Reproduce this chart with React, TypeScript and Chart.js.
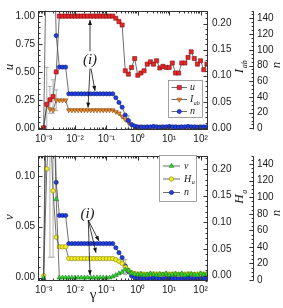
import React, { useEffect, useRef } from "react";
import { Chart, registerables } from "chart.js";
Chart.register(...registerables);

// ---------------- data ----------------
const gammaExp = [-3.0, -2.9, -2.8, -2.7, -2.6, -2.5, -2.4, -2.3, -2.2, -2.1, -2.0, -1.9, -1.8, -1.7, -1.6, -1.5, -1.4, -1.3, -1.2, -1.1, -1.0, -0.9, -0.8, -0.7, -0.6, -0.5, -0.4, -0.3, -0.2, -0.1, 0.0, 0.1, 0.2, 0.3, 0.4, 0.5, 0.6, 0.7, 0.8, 0.9, 1.0, 1.1, 1.2, 1.3, 1.4, 1.5, 1.6, 1.7, 1.8, 1.9, 2.0, 2.1, 2.2];
const gamma = gammaExp.map((e) => Math.pow(10, e));

const uValues = [0.00, 0.21, 0.25, 0.28, 0.50,
  1, 1, 1, 1, 1, 1, 1, 1, 1, 1, 1, 1, 1, 1, 1, 1, 1, 1,
  0.98, 0.95, 0.92,
  0.51, 0.48, 0.54, 0.62, 0.47, 0.49, 0.51, 0.57, 0.59, 0.57, 0.60, 0.535, 0.55, 0.54, 0.54, 0.58, 0.49, 0.49, 0.58, 0.58, 0.63, 0.68, 0.62, 0.57, 0.60, 0.52, 0.57];
const iabValues = [0.000, 0.044, 0.036, 0.034,
  0.053, 0.053, 0.053, 0.053,
  0.034, 0.034, 0.034, 0.034, 0.034, 0.034, 0.034, 0.034, 0.034, 0.034, 0.034, 0.034, 0.034, 0.034, 0.034,
  0.031, 0.028, 0.022, 0.016, 0.011, 0.006, 0.003,
  0.002, 0.002, 0.0025, 0.002, 0.0015, 0.002, 0.002, 0.0025, 0.002, 0.002, 0.0015, 0.002, 0.002, 0.0025, 0.002, 0.002, 0.0015, 0.002, 0.002, 0.0025, 0.002, 0.002, 0.002];
const nValues = [0, 260, 230, 280, 118, 78, 78, 78,
  44, 44, 44, 44, 44, 44, 44, 44, 44, 44, 44, 44, 44, 44, 44,
  39, 33, 27, 17, 10, 5, 3, 2,
  2, 1.5, 2, 2, 2.5, 2, 1.5, 2, 2, 2.5, 2, 2, 1.5, 2, 2, 2.5, 2, 2, 1.5, 2, 2, 2];
const vValues = [0, 0.30, 0.25, 0.20, 0.077,
  0, 0, 0, 0, 0, 0, 0, 0, 0, 0, 0, 0, 0, 0, 0, 0, 0,
  0.001, 0.0024, 0.004, 0.0055, 0.008, 0.007, 0.0045, 0.0035,
  0.003, 0.0035, 0.0025, 0.003, 0.004, 0.003, 0.0025, 0.0035, 0.003, 0.004, 0.0025, 0.003, 0.0035, 0.003, 0.004, 0.0025, 0.003, 0.0035, 0.003, 0.0025, 0.004, 0.003, 0.0035];
const haValues = [0, 0.200, 0.300, 0.159, 0.072, 0.054, 0.054, 0.054,
  0.032, 0.032, 0.032, 0.032, 0.032, 0.032, 0.032, 0.032, 0.032, 0.032, 0.032, 0.032, 0.032, 0.032, 0.032,
  0.030, 0.027, 0.023, 0.016, 0.010, 0.006, 0.004,
  0.003, 0.0035, 0.003, 0.0025, 0.003, 0.0035, 0.003, 0.003, 0.0025, 0.0035, 0.003, 0.003, 0.0035, 0.0025, 0.003, 0.003, 0.0035, 0.003, 0.0025, 0.003, 0.0035, 0.003, 0.003];

// error bars: [index, half-width]
const uErrors: [number, number][] = [[1, 0.33], [2, 0.12], [3, 0.15]];
const iabErrors: [number, number][] = [[4, 0.02], [27, 0.012]];
const vErrors: [number, number][] = [[2, 0.23], [3, 0.18]];
const haErrors: [number, number][] = [[26, 0.014]];

// annotation "(i)": text anchor [gamma, left-axis value], arrows [g1, v1, g2, v2]
const topNoteText: [number, number] = [0.030, 0.61];
const topNoteArrows: number[][] = [[0.030, 0.685, 0.030, 0.965], [0.0322, 0.53, 0.0433, 0.33], [0.030, 0.53, 0.0259, 0.18]];
const botNoteText: [number, number] = [0.0249, 0.0629];
const botNoteArrows: number[][] = [[0.0264, 0.0566, 0.0579, 0.0359], [0.0264, 0.0566, 0.0466, 0.0244], [0.0264, 0.0566, 0.030, 0.0024]];

// ---------------- drawing helpers ----------------
const LINE = "#4a4a4a";
const FRAME = "#333";
const TXT = "#1a1a1a";
const SUP: Record<string, string> = { "-": "\u207B", "0": "\u2070", "1": "\u00B9", "2": "\u00B2", "3": "\u00B3", "4": "\u2074" };

function powLabel(v: number) {
  const l = Math.log10(v);
  const e = Math.round(l);
  if (Math.abs(l - e) > 1e-6) return "";
  return "10" + String(e).split("").map((c) => SUP[c]).join("");
}

function drawMarker(ctx: CanvasRenderingContext2D, style: string, x: number, y: number, r: number, rotation: number, fill: string, stroke: string) {
  ctx.save();
  ctx.beginPath();
  if (style === "rect") {
    const s = Math.SQRT1_2 * r;
    ctx.rect(x - s, y - s, 2 * s, 2 * s);
  } else if (style === "circle") {
    ctx.arc(x, y, r, 0, Math.PI * 2);
  } else {
    let rad = (rotation * Math.PI) / 180;
    for (let k = 0; k < 3; k++) {
      const px = x + Math.sin(rad) * r;
      const py = y - Math.cos(rad) * r;
      if (k === 0) ctx.moveTo(px, py);
      else ctx.lineTo(px, py);
      rad += (2 * Math.PI) / 3;
    }
    ctx.closePath();
  }
  ctx.fillStyle = fill;
  ctx.fill();
  ctx.strokeStyle = stroke;
  ctx.lineWidth = 0.6;
  ctx.stroke();
  ctx.restore();
}

function drawLabel(ctx: CanvasRenderingContext2D, text: string, sub: string | undefined, x: number, y: number, size: number, rot: number, align: "center" | "left", italic = true) {
  ctx.save();
  ctx.translate(x, y);
  if (rot) ctx.rotate(rot);
  const main = `${italic ? "italic " : ""}${size}px "Liberation Serif", serif`;
  const small = `${italic ? "italic " : ""}${Math.round(size * 0.62)}px "Liberation Serif", serif`;
  ctx.font = main;
  const mw = ctx.measureText(text).width;
  ctx.font = small;
  const sw = sub ? ctx.measureText(sub).width : 0;
  const total = mw + sw;
  let x0 = align === "center" ? -total / 2 : 0;
  ctx.fillStyle = TXT;
  ctx.textBaseline = "middle";
  ctx.textAlign = "left";
  ctx.font = main;
  ctx.fillText(text, x0, 0);
  if (sub) {
    ctx.font = small;
    ctx.fillText(sub, x0 + mw + 0.5, size * 0.35);
  }
  ctx.restore();
}

function arrow(ctx: CanvasRenderingContext2D, x1: number, y1: number, x2: number, y2: number) {
  ctx.beginPath();
  ctx.moveTo(x1, y1);
  ctx.lineTo(x2, y2);
  ctx.stroke();
  const a = Math.atan2(y2 - y1, x2 - x1);
  const L = 5, W = 2;
  ctx.beginPath();
  ctx.moveTo(x2, y2);
  ctx.lineTo(x2 - L * Math.cos(a) + W * Math.sin(a), y2 - L * Math.sin(a) - W * Math.cos(a));
  ctx.lineTo(x2 - L * Math.cos(a) - W * Math.sin(a), y2 - L * Math.sin(a) + W * Math.cos(a));
  ctx.closePath();
  ctx.fill();
}

type Series = { label: string; sub?: string; values: number[]; errors: [number, number][]; axis: string; fill: string; stroke: string; style: string; rotation: number; radius: number };
type AxisDef = { min: number; max: number; step: number; minor: number; digits: number; title: string; sub?: string; titleX: number; titleY: number };
type PanelDef = {
  height: number; padTop: number; xAxisH: number;
  series: Series[];
  yL: AxisDef; yR: AxisDef; yN: AxisDef;
  legend: { box: number[]; rows: number[]; lineX: number[]; textX: number };
  noteText: [number, number]; noteArrows: number[][];
  gammaTitle?: number[];
};

function makeDecor(p: PanelDef) {
  return {
    id: "decor",
    beforeDatasetsDraw(chart: any) {
      const ctx: CanvasRenderingContext2D = chart.ctx;
      const ca = chart.chartArea;
      const xs = chart.scales.x;
      ctx.save();
      ctx.beginPath();
      ctx.rect(ca.left, ca.top, ca.right - ca.left, ca.bottom - ca.top);
      ctx.clip();
      ctx.strokeStyle = "#9a9a9a";
      ctx.lineWidth = 0.8;
      p.series.forEach((s) => {
        const ys = chart.scales[s.axis];
        s.errors.forEach(([i, e]) => {
          const px = xs.getPixelForValue(gamma[i]);
          const y1 = ys.getPixelForValue(s.values[i] - e);
          const y2 = ys.getPixelForValue(s.values[i] + e);
          ctx.beginPath();
          ctx.moveTo(px, y1); ctx.lineTo(px, y2);
          ctx.moveTo(px - 2, y1); ctx.lineTo(px + 2, y1);
          ctx.moveTo(px - 2, y2); ctx.lineTo(px + 2, y2);
          ctx.stroke();
        });
      });
      ctx.restore();
    },
    afterDraw(chart: any) {
      const ctx: CanvasRenderingContext2D = chart.ctx;
      const ca = chart.chartArea;
      const xs = chart.scales.x;
      const yl = chart.scales.yL, yr = chart.scales.yR, yn = chart.scales.yN;
      ctx.save();
      ctx.strokeStyle = FRAME;
      ctx.lineWidth = 1;
      const L = Math.round(ca.left) + 0.5, R = Math.round(ca.right) - 0.5, T = Math.round(ca.top) + 0.5, B = Math.round(ca.bottom) - 0.5;
      ctx.strokeRect(L, T, R - L, B - T);
      // x ticks (log)
      ctx.beginPath();
      for (let e = -4; e <= 3; e++) {
        for (let m = 1; m <= 9; m++) {
          const v = m * Math.pow(10, e);
          if (v < xs.min || v > xs.max) continue;
          const px = Math.round(xs.getPixelForValue(v)) + 0.5;
          const len = m === 1 ? 4 : 2;
          ctx.moveTo(px, B); ctx.lineTo(px, B - len);
          ctx.moveTo(px, T); ctx.lineTo(px, T + len);
        }
      }
      // y ticks
      const yTicks = (sc: any, def: AxisDef, x: number, dir: number) => {
        const i0 = Math.ceil(def.min / def.minor - 1e-9), i1 = Math.floor(def.max / def.minor + 1e-9);
        for (let i = i0; i <= i1; i++) {
          const v = i * def.minor;
          const py = Math.round(sc.getPixelForValue(v)) + 0.5;
          const isMajor = Math.abs(v / def.step - Math.round(v / def.step)) < 1e-6;
          const len = isMajor ? 4 : 2;
          ctx.moveTo(x, py); ctx.lineTo(x + dir * len, py);
        }
      };
      yTicks(yl, p.yL, L, 1);
      yTicks(yr, p.yR, R, -1);
      const NX = Math.round(yn.left) + 0.5;
      yTicks(yn, p.yN, NX, -1);
      ctx.moveTo(NX, T); ctx.lineTo(NX, B);
      ctx.stroke();

      // axis titles
      const rot = -Math.PI / 2;
      [p.yL, p.yR, p.yN].forEach((a) => drawLabel(ctx, a.title, a.sub, a.titleX, a.titleY, 13, rot, "center"));
      if (p.gammaTitle) drawLabel(ctx, "\u03B3", undefined, p.gammaTitle[0], p.gammaTitle[1], 15, 0, "center", false);

      // legend
      const lg = p.legend;
      ctx.fillStyle = "#fff";
      ctx.fillRect(lg.box[0], lg.box[1], lg.box[2] - lg.box[0], lg.box[3] - lg.box[1]);
      ctx.strokeStyle = "#8c8c8c";
      ctx.lineWidth = 0.8;
      ctx.strokeRect(lg.box[0] + 0.5, lg.box[1] + 0.5, lg.box[2] - lg.box[0], lg.box[3] - lg.box[1]);
      p.series.forEach((s, i) => {
        const y = lg.rows[i];
        ctx.strokeStyle = LINE;
        ctx.lineWidth = 0.8;
        ctx.beginPath();
        ctx.moveTo(lg.lineX[0], y); ctx.lineTo(lg.lineX[1], y);
        ctx.stroke();
        drawMarker(ctx, s.style, (lg.lineX[0] + lg.lineX[1]) / 2, y, s.radius, s.rotation, s.fill, s.stroke);
        drawLabel(ctx, s.label, s.sub, lg.textX, y, 10, 0, "left");
      });

      // annotation
      ctx.strokeStyle = "#111";
      ctx.fillStyle = "#111";
      ctx.lineWidth = 0.8;
      p.noteArrows.forEach((a) => {
        arrow(ctx, xs.getPixelForValue(a[0]), yl.getPixelForValue(a[1]), xs.getPixelForValue(a[2]), yl.getPixelForValue(a[3]));
      });
      drawLabel(ctx, "(i)", undefined, xs.getPixelForValue(p.noteText[0]), yl.getPixelForValue(p.noteText[1]), 15, 0, "center");
      ctx.restore();
    },
  };
}

function buildConfig(p: PanelDef): any {
  const font = { family: '"Liberation Sans", Arial, sans-serif', size: 10 };
  const yAxis = (a: AxisDef, position: string, weight: number, width: number, pad: number) => ({
    type: "linear",
    position,
    weight,
    min: a.min,
    max: a.max,
    grid: { display: false, drawTicks: false },
    border: { display: false },
    ticks: {
      stepSize: a.step,
      includeBounds: false,
      padding: pad,
      color: TXT,
      font,
      callback: (v: any) => (a.digits ? Number(v).toFixed(a.digits) : String(Math.round(Number(v)))),
    },
    afterFit: (s: any) => { s.width = width; },
  });
  return {
    type: "line",
    data: {
      datasets: p.series.map((s) => ({
        label: s.label,
        data: gamma.map((g, i) => ({ x: g, y: s.values[i] })),
        yAxisID: s.axis,
        borderColor: LINE,
        borderWidth: 0.8,
        pointBackgroundColor: s.fill,
        pointBorderColor: s.stroke,
        pointBorderWidth: 0.6,
        pointStyle: s.style,
        pointRotation: s.rotation,
        pointRadius: s.radius,
        tension: 0,
        fill: false,
      })),
    },
    options: {
      animation: false,
      responsive: false,
      maintainAspectRatio: false,
      devicePixelRatio: 1,
      events: [],
      layout: { padding: { top: p.padTop, left: 0, right: 0, bottom: 0 } },
      plugins: { legend: { display: false }, tooltip: { enabled: false } },
      scales: {
        x: {
          type: "logarithmic",
          min: Math.pow(10, -3.18),
          max: Math.pow(10, 2.22),
          grid: { display: false, drawTicks: false },
          border: { display: false },
          ticks: { autoSkip: false, maxRotation: 0, minRotation: 0, padding: 3, color: TXT, font, callback: (v: any) => powLabel(Number(v)) },
          afterFit: (s: any) => { s.height = p.xAxisH; },
        },
        yL: yAxis(p.yL, "left", 0, 38, 3),
        yR: yAxis(p.yR, "right", 0, 45.5, 4.5),
        yN: yAxis(p.yN, "right", 1, 30, 4),
      },
    },
    plugins: [makeDecor(p)],
  };
}

const RED = { fill: "#e8262a", stroke: "#7d1012" };
const ORANGE = { fill: "#ee8a22", stroke: "#7a4510" };
const BLUE = { fill: "#1f3fe6", stroke: "#0b1770" };
const GREEN = { fill: "#34d834", stroke: "#157a15" };
const YELLOW = { fill: "#f3ee1e", stroke: "#85830e" };

const topPanel: PanelDef = {
  height: 145, padTop: 1, xAxisH: 15,
  series: [
    { label: "u", values: uValues, errors: uErrors, axis: "yL", ...RED, style: "rect", rotation: 0, radius: 2.9 },
    { label: "n", values: nValues, errors: [], axis: "yN", ...BLUE, style: "circle", rotation: 0, radius: 2.1 },
    { label: "I", sub: "ab", values: iabValues, errors: iabErrors, axis: "yR", ...ORANGE, style: "triangle", rotation: 180, radius: 2.7 },
  ],
  yL: { min: -0.02, max: 1.05, step: 0.25, minor: 0.05, digits: 2, title: "u", titleX: 10, titleY: 67 },
  yR: { min: -0.004, max: 0.225, step: 0.05, minor: 0.01, digits: 2, title: "I", sub: "ab", titleX: 240, titleY: 67 },
  yN: { min: -2, max: 150, step: 20, minor: 5, digits: 0, title: "n", titleX: 277, titleY: 65 },
  legend: { box: [168, 80, 202, 117], rows: [87.5, 111.5, 99.5], lineX: [171.5, 187], textX: 190 },
  noteText: topNoteText, noteArrows: topNoteArrows,
};

const bottomPanel: PanelDef = {
  height: 163, padTop: 7, xAxisH: 27,
  series: [
    { label: "v", values: vValues, errors: vErrors, axis: "yL", ...GREEN, style: "triangle", rotation: 0, radius: 2.7 },
    { label: "H", sub: "a", values: haValues, errors: haErrors, axis: "yR", ...YELLOW, style: "circle", rotation: 0, radius: 2.2 },
    { label: "n", values: nValues, errors: [], axis: "yN", ...BLUE, style: "circle", rotation: 0, radius: 2.1 },
  ],
  yL: { min: -0.0033, max: 0.12, step: 0.05, minor: 0.01, digits: 2, title: "v", titleX: 10, titleY: 72 },
  yR: { min: -0.01, max: 0.225, step: 0.05, minor: 0.01, digits: 2, title: "H", sub: "a", titleX: 240, titleY: 52 },
  yN: { min: -1.2, max: 150.5, step: 20, minor: 5, digits: 0, title: "n", titleX: 277, titleY: 68 },
  legend: { box: [159, 10, 196, 56], rows: [21, 34, 47.5], lineX: [163, 180], textX: 184 },
  noteText: botNoteText, noteArrows: botNoteArrows,
  gammaTitle: [93, 150],
};

function Panel({ def, top }: { def: PanelDef; top: number }) {
  const ref = useRef<HTMLCanvasElement>(null);
  useEffect(() => {
    const chart = new Chart(ref.current as HTMLCanvasElement, buildConfig(def));
    return () => chart.destroy();
  }, []);
  return (
    <canvas
      ref={ref}
      width={283}
      height={def.height}
      style={{ position: "absolute", left: 0, top, width: 283, height: def.height }}
    />
  );
}

export default function App() {
  return (
    <div style={{ position: "fixed", left: 0, top: 0, width: 283, height: 308, background: "#fff", overflow: "hidden" }}>
      <Panel def={topPanel} top={0} />
      <Panel def={bottomPanel} top={145} />
    </div>
  );
}
